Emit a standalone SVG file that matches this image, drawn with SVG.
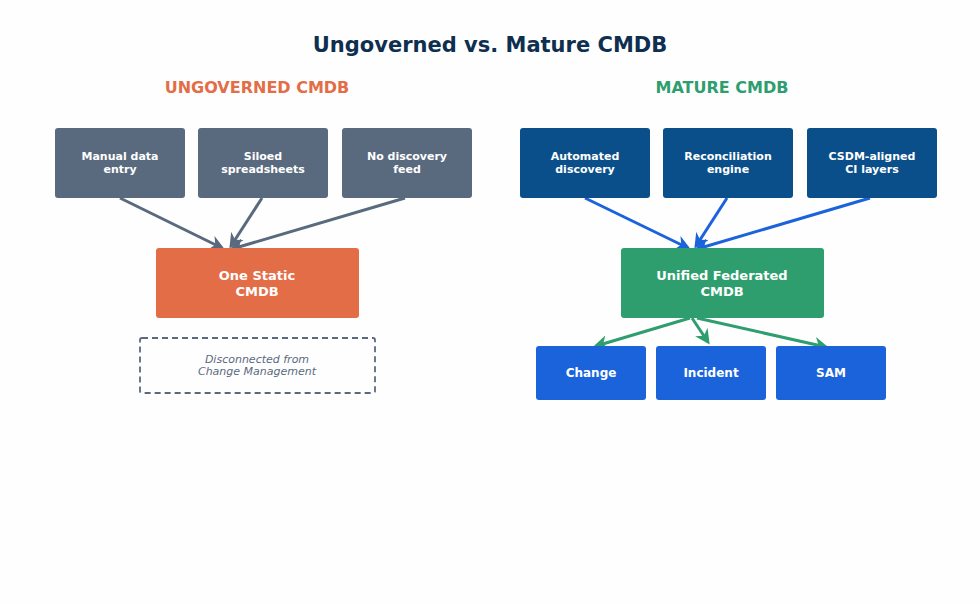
<svg xmlns="http://www.w3.org/2000/svg" width="980" height="604" viewBox="0 0 980 604">
<style>
text{font-family:"DejaVu Sans","Liberation Sans",sans-serif;text-anchor:middle}
.t{font-size:21px;font-weight:bold;fill:#0E2F50}
.h{font-size:16px;font-weight:bold}
.bt{font-size:11px;font-weight:bold;fill:#fff}
.ct{font-size:13px;font-weight:bold;fill:#fff}
.st{font-size:12px;font-weight:bold;fill:#fff}
.it{font-size:11px;font-style:italic;fill:#5A6A7E}
.grey{fill:#5A6A7E}
.navy{fill:#0B4F8A}
.blue{fill:#1B63DB}
.lg{stroke:#5A6A7E;stroke-width:3;fill:none}
.lb{stroke:#1B63DB;stroke-width:3;fill:none}
.lgr{stroke:#2F9E6E;stroke-width:3;fill:none}
</style>
<defs>
<marker id="ag" viewBox="0 0 10 10" refX="8" refY="5" markerWidth="5" markerHeight="5" orient="auto" markerUnits="strokeWidth"><path d="M0,0 L10,5 L0,10 L3,5 z" fill="#5A6A7E"/></marker>
<marker id="ab" viewBox="0 0 10 10" refX="8" refY="5" markerWidth="5" markerHeight="5" orient="auto" markerUnits="strokeWidth"><path d="M0,0 L10,5 L0,10 L3,5 z" fill="#1B63DB"/></marker>
<marker id="agr" viewBox="0 0 10 10" refX="8" refY="5" markerWidth="5" markerHeight="5" orient="auto" markerUnits="strokeWidth"><path d="M0,0 L10,5 L0,10 L3,5 z" fill="#2F9E6E"/></marker>
</defs>
<rect width="980" height="604" fill="#FEFEFE"/>
<text class="t" x="490" y="52">Ungoverned vs. Mature CMDB</text>
<text class="h" x="257" y="93" fill="#E36D47">UNGOVERNED CMDB</text>
<text class="h" x="722" y="93" fill="#2F9E6E">MATURE CMDB</text>

<g id="connectors">
<path class="lg" d="M120,198 L222,248" marker-end="url(#ag)"/>
<path class="lg" d="M262,198 L231,246" marker-end="url(#ag)"/>
<path class="lg" d="M405,198 L232,249" marker-end="url(#ag)"/>
<path class="lb" d="M585,198 L688,248" marker-end="url(#ab)"/>
<path class="lb" d="M727,198 L696,246" marker-end="url(#ab)"/>
<path class="lb" d="M870,198 L697,249" marker-end="url(#ab)"/>
<path class="lgr" d="M690,318 L596,346" marker-end="url(#agr)"/>
<path class="lgr" d="M692,318 L708,342" marker-end="url(#agr)"/>
<path class="lgr" d="M697,318 L826,347" marker-end="url(#agr)"/>
</g>

<g id="manual"><rect class="grey" x="55" y="128" width="130" height="70" rx="3"/><text class="bt" x="120" y="160">Manual data</text><text class="bt" x="120" y="173">entry</text></g>
<g id="siloed"><rect class="grey" x="198" y="128" width="130" height="70" rx="3"/><text class="bt" x="263" y="160">Siloed</text><text class="bt" x="263" y="173">spreadsheets</text></g>
<g id="nodisc"><rect class="grey" x="342" y="128" width="130" height="70" rx="3"/><text class="bt" x="407" y="160">No discovery</text><text class="bt" x="407" y="173">feed</text></g>
<g id="static"><rect x="156" y="248" width="203" height="70" rx="3" fill="#E36D47"/><text class="ct" x="257" y="280">One Static</text><text class="ct" x="257" y="296">CMDB</text></g>
<g id="disconnected"><rect x="140" y="338" width="235" height="55" rx="2" fill="none" stroke="#5A6A7E" stroke-width="1.8" stroke-dasharray="6,4"/><text class="it" x="257" y="363">Disconnected from</text><text class="it" x="257" y="375">Change Management</text></g>

<g id="auto"><rect class="navy" x="520" y="128" width="130" height="70" rx="3"/><text class="bt" x="585" y="160">Automated</text><text class="bt" x="585" y="173">discovery</text></g>
<g id="recon"><rect class="navy" x="663" y="128" width="130" height="70" rx="3"/><text class="bt" x="728" y="160">Reconciliation</text><text class="bt" x="728" y="173">engine</text></g>
<g id="csdm"><rect class="navy" x="807" y="128" width="130" height="70" rx="3"/><text class="bt" x="872" y="160">CSDM-aligned</text><text class="bt" x="872" y="173">CI layers</text></g>
<g id="unified"><rect x="621" y="248" width="203" height="70" rx="3" fill="#2F9E6E"/><text class="ct" x="722" y="280">Unified Federated</text><text class="ct" x="722" y="296">CMDB</text></g>
<g id="change"><rect class="blue" x="536" y="346" width="110" height="54" rx="3"/><text class="st" x="591" y="377">Change</text></g>
<g id="incident"><rect class="blue" x="656" y="346" width="110" height="54" rx="3"/><text class="st" x="711" y="377">Incident</text></g>
<g id="sam"><rect class="blue" x="776" y="346" width="110" height="54" rx="3"/><text class="st" x="831" y="377">SAM</text></g>
</svg>
